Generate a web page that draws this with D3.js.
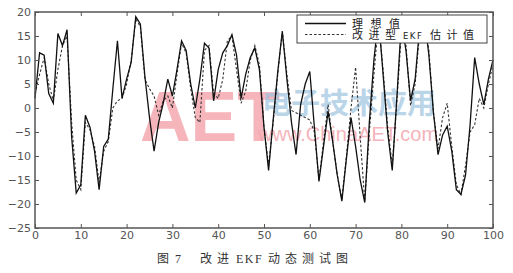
<!DOCTYPE html>
<html>
<head>
<meta charset="utf-8">
<script src="https://cdn.jsdelivr.net/npm/d3@7"></script>
<style>
  body { margin: 0; background: #fff; }
  svg { display: block; }
</style>
</head>
<body>
<div id="chart"></div>
<script>
// samples 0..100
var ideal = [2, 11.5, 11, 3, 1, 15.5, 13, 16.3, -6, -17.7,
  -16, -1.5, -4, -9, -17, -8, -6.5, 4, 14, 2,
  6, 9.5, 19, 17.5, 6.5, -2, -9, -3, 1, 6,
  2.5, 8, 14, 12, 5, 0, 6, 13.5, 12.5, 1.5,
  8, 11.5, 13, 15.3, 11, 2, 7, 10.5, 12.5, 8,
  -4, -13, -2.5, 7.5, 16, 6, -3, -9.7, 0.7, 5,
  7.6, -4, -15.3, -8, -0.7, -7, -14, -19.4, -10.5, -2,
  -8, -15, -19.7, -3, 10, 19, 7, -5, -13, 2,
  18, 12, 1.5, 6, 17, 19, 11, -1, -9.7, -5.6,
  -3.8, -9, -17, -18, -14, -3.5, 10.5, 5, 0.7, 6,
  10];

var estimate = [3, 7, 10.5, 5, 1.5, 8, 13, 15, -3, -15,
  -17, -3, -4.5, -8, -15.5, -9, -7, 0, 1.5, 2,
  5, 10, 18.5, 17, 6, 4, 2.5, -1.5, 1.5, 2.5,
  0, 7, 13.5, 11.5, 4, -2, -3, 12, 13, 3,
  2, 6, 14, 15, 8, 1, 3.5, 10, 13, 9,
  -4, -12, -3, 7, 16, 7, -0.5, -1, -1.5, -2,
  -2.5, -5, -15, -7, 0.7, -7, -14, -19, -10, 0,
  8.5, -6, -19.5, -5, 7, 18, 8, -4, -12, 1,
  16, 13, 0.5, 5, 16, 18.5, 12, -1, -8.5, -2,
  1, -8, -16, -18, -12, -5, -3.5, 2, 0, 5,
  9];

var xTicks = [0, 10, 20, 30, 40, 50, 60, 70, 80, 90, 100];
var yTicks = [-25, -20, -15, -10, -5, 0, 5, 10, 15, 20];
var legendNames = ["理想值", "改进型", "EKF", "估计值"];

var width = 513, height = 273;
var pLeft = 35, pRight = 493, pTop = 12, pBottom = 228;

var svg = d3.select("#chart").append("svg")
  .attr("width", width)
  .attr("height", height);

var x = d3.scaleLinear().domain([0, 100]).range([pLeft, pRight]);
var y = d3.scaleLinear().domain([-25, 20]).range([pBottom, pTop]);

// watermark (sits behind the curves)
var wm = svg.append("g");
wm.append("text")
  .attr("x", 140).attr("y", 141)
  .style("font-family", "Liberation Sans, Arial, sans-serif")
  .style("font-weight", "bold")
  .style("font-size", "70px")
  .style("fill", "#f4a3ab")
  .style("opacity", 0.8)
  .text("AET");
wm.append("text")
  .attr("x", 262).attr("y", 114)
  .style("font-family", "Noto Sans CJK SC")
  .style("font-weight", "bold")
  .style("font-size", "29px")
  .style("fill", "#9ec3df")
  .style("opacity", 0.7)
  .text("电子技术应用");
wm.append("text")
  .attr("x", 258).attr("y", 141)
  .style("font-family", "Liberation Sans, Arial, sans-serif")
  .style("font-size", "20px")
  .style("fill", "#f3a7b0")
  .style("opacity", 0.85)
  .text("www.ChinaAET.com");

// curves
var line = d3.line()
  .x(function(d, i) { return x(i); })
  .y(function(d) { return y(d); });

svg.append("path")
  .datum(estimate)
  .attr("d", line)
  .attr("fill", "none")
  .attr("stroke", "#333")
  .attr("stroke-width", 1.1)
  .attr("stroke-dasharray", "2.5,2");

svg.append("path")
  .datum(ideal)
  .attr("d", line)
  .attr("fill", "none")
  .attr("stroke", "#111")
  .attr("stroke-width", 1.3);

// axes, matlab style box with inward ticks
var axisColor = "#555";
function styleAxis(g) {
  g.select(".domain").remove();
  g.selectAll(".tick line").attr("stroke", axisColor).attr("stroke-width", 1);
  g.selectAll(".tick text")
    .style("font-family", "DejaVu Sans, sans-serif")
    .style("font-size", "11px")
    .style("fill", axisColor);
}

svg.append("g")
  .attr("transform", "translate(0," + pBottom + ")")
  .call(d3.axisBottom(x).tickValues(xTicks).tickSize(-4).tickSizeOuter(0).tickPadding(3))
  .call(styleAxis);
svg.append("g")
  .attr("transform", "translate(" + pLeft + ",0)")
  .call(d3.axisLeft(y).tickValues(yTicks).tickSize(-4).tickSizeOuter(0).tickPadding(4))
  .call(styleAxis);
svg.append("g")
  .attr("transform", "translate(0," + pTop + ")")
  .call(d3.axisTop(x).tickValues(xTicks).tickSize(-4).tickSizeOuter(0).tickFormat(""))
  .call(styleAxis);
svg.append("g")
  .attr("transform", "translate(" + pRight + ",0)")
  .call(d3.axisRight(y).tickValues(yTicks).tickSize(-4).tickSizeOuter(0).tickFormat(""))
  .call(styleAxis);

svg.append("rect")
  .attr("x", pLeft).attr("y", pTop)
  .attr("width", pRight - pLeft).attr("height", pBottom - pTop)
  .attr("fill", "none")
  .attr("stroke", axisColor)
  .attr("stroke-width", 1.5);

// legend
var lg = svg.append("g");
lg.append("rect")
  .attr("x", 297).attr("y", 15)
  .attr("width", 190).attr("height", 28)
  .attr("fill", "#fff")
  .attr("stroke", "#444")
  .attr("stroke-width", 1);
lg.append("line")
  .attr("x1", 305).attr("x2", 346).attr("y1", 23.5).attr("y2", 23.5)
  .attr("stroke", "#111").attr("stroke-width", 1.3);
lg.append("line")
  .attr("x1", 305).attr("x2", 346).attr("y1", 34.5).attr("y2", 34.5)
  .attr("stroke", "#333").attr("stroke-width", 1.1)
  .attr("stroke-dasharray", "2.5,2");

var cjk = "Noto Sans CJK SC, sans-serif";
lg.append("text")
  .attr("x", 352).attr("y", 28)
  .style("font-family", cjk).style("font-size", "11px")
  .style("letter-spacing", "7.5px").style("fill", "#222")
  .text(legendNames[0]);
var row2 = lg.append("text")
  .attr("y", 39)
  .style("font-family", cjk).style("font-size", "11px").style("fill", "#222");
row2.append("tspan").attr("x", 352).style("letter-spacing", "5.5px").text(legendNames[1]);
row2.append("tspan").attr("x", 403)
  .style("font-family", "DejaVu Sans, sans-serif").style("font-size", "8.5px")
  .style("letter-spacing", "1.5px").text(legendNames[2]);
row2.append("tspan").attr("x", 430).style("letter-spacing", "5.5px").text(legendNames[3]);

// caption
var cap = svg.append("text")
  .attr("y", 263)
  .style("font-family", cjk).style("font-size", "12px").style("fill", "#333");
cap.append("tspan").attr("x", 157).text("图");
cap.append("tspan").attr("x", 175).style("font-family", "Liberation Serif, serif").text("7");
cap.append("tspan").attr("x", 200).style("letter-spacing", "5px").text("改进");
cap.append("tspan").attr("x", 236).style("font-family", "Liberation Serif, serif")
  .style("letter-spacing", "1.5px").text("EKF");
cap.append("tspan").attr("x", 268).style("letter-spacing", "5px").text("动态测试图");
</script>
</body>
</html>
